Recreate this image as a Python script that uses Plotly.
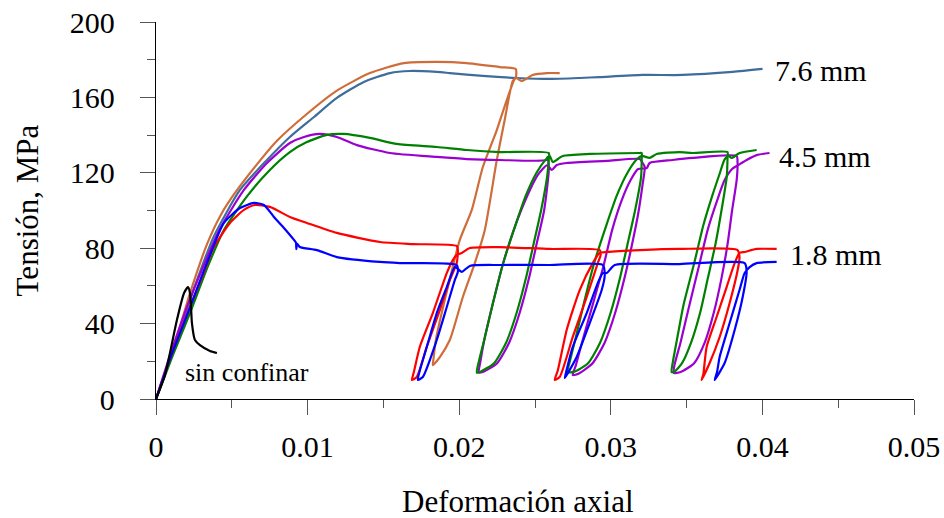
import plotly.graph_objects as go

# ---------------- data (strain [-], stress [MPa]) ----------------
sin_confinar = [(0, 0), (0.00059, 12.7), (0.00092, 24.4), (0.00138, 41.9), (0.00185, 56.2),
                (0.00211, 59.4), (0.00224, 56.2), (0.00231, 48.8), (0.00237, 40.3), (0.00257, 31.3),
                (0.0029, 28.6), (0.00356, 25.5), (0.00402, 24.4)]

mm76_a = [(0, 0), (0.0009, 20), (0.0018, 42), (0.0027, 63), (0.0038, 86), (0.00554, 110.9),
          (0.00732, 126.8), (0.00883, 139), (0.01042, 149.6), (0.01193, 159.7), (0.01371, 168.2),
          (0.01543, 172.9), (0.01674, 174), (0.01852, 173.5), (0.01938, 172.9), (0.02156, 171.4),
          (0.0238, 170.3), (0.02597, 169.8), (0.02795, 170.3), (0.02927, 170.8), (0.0321, 171.9),
          (0.03474, 171.9), (0.03804, 173.5), (0.04001, 175.1)]

mm76_b = [(0, 0), (0.0008, 18), (0.0015, 36), (0.00224, 56), (0.00336, 82), (0.0043, 98),
          (0.00514, 108.5), (0.00666, 124.5), (0.00798, 137), (0.00995, 151.2), (0.01193, 163.6),
          (0.01411, 172.9), (0.01635, 178.2), (0.01852, 178.8), (0.0205, 178.2), (0.02268, 176.1),
          (0.02373, 175.1),
          (0.02373, 170.3), (0.02353, 168.7), (0.0230, 148), (0.02248, 126.8), (0.02169, 89.7),
          (0.02103, 72.1), (0.02024, 54.1), (0.01938, 31.3), (0.0187, 22), (0.01826, 18),
          (0.0183, 21), (0.01846, 31.3), (0.01938, 63.6), (0.02004, 84.4), (0.02083, 100.3),
          (0.02156, 123.1), (0.02248, 142.7), (0.02314, 158.6), (0.02373, 170.3),
          (0.02413, 168.7), (0.02485, 171.9), (0.02577, 172.9), (0.02663, 172.9)]

mm45_a = [(0, 0), (0.0011, 23), (0.00224, 45.6), (0.0034, 70), (0.00448, 89.7), (0.006, 107.5),
          (0.00751, 121.5), (0.00883, 131), (0.00995, 136.3), (0.01127, 140.1), (0.01239, 140.6),
          (0.01411, 138.5), (0.01589, 135.3), (0.01852, 133.7), (0.0205, 132.1), (0.02268, 131),
          (0.02591, 130.5),
          (0.02591, 127.5), (0.0258, 118), (0.0254, 100), (0.0249, 82), (0.0244, 64), (0.0238, 46),
          (0.0231, 30), (0.0223, 19), (0.0214, 14.5), (0.02116, 14),
          (0.0213, 20), (0.0217, 33), (0.0222, 50), (0.0229, 72), (0.0237, 92), (0.0244, 108),
          (0.0251, 120), (0.0257, 127), (0.02597, 129),
          (0.02617, 125.7), (0.02683, 128.9), (0.02861, 130), (0.03191, 130.5), (0.03204, 130.5),
          (0.03204, 127.9), (0.0320, 118), (0.0316, 100), (0.0311, 82), (0.0306, 64), (0.0300, 46),
          (0.0293, 30), (0.0285, 19), (0.0276, 14.5), (0.02716, 14.3),
          (0.0273, 20), (0.0277, 33), (0.0282, 50), (0.0289, 72), (0.0297, 92), (0.0304, 108),
          (0.0311, 120), (0.0317, 127), (0.03204, 129),
          (0.03256, 127.9), (0.03303, 130), (0.03454, 131), (0.0354, 130.5), (0.0377, 131),
          (0.0377, 128.4), (0.03765, 118), (0.0373, 100), (0.0369, 82), (0.0364, 64), (0.0359, 46),
          (0.0353, 30), (0.0347, 19), (0.0342, 14.6), (0.03401, 14.3),
          (0.0341, 20), (0.0344, 33), (0.0348, 50), (0.0355, 72), (0.0361, 92), (0.0367, 108),
          (0.0372, 120), (0.0375, 127), (0.03777, 129),
          (0.03797, 127.9), (0.0385, 130.5), (0.03962, 132.1)]

mm45_b = [(0, 0), (0.001, 25), (0.002, 48), (0.003, 68), (0.0042, 90), (0.0058, 110.9),
          (0.00732, 125.2), (0.00883, 135.8), (0.00976, 139), (0.01081, 140.6), (0.01193, 139),
          (0.01325, 134.7), (0.01543, 130.5), (0.01852, 128.4), (0.0205, 127.3), (0.02268, 126.8),
          (0.02577, 126.8), (0.02584, 128.5),
          (0.0259, 125), (0.0259, 120), (0.0256, 100), (0.0251, 82), (0.0246, 64), (0.0240, 46),
          (0.0233, 30), (0.0225, 19), (0.0216, 14.5), (0.0213, 14),
          (0.0214, 20), (0.0217, 33), (0.0222, 50), (0.0229, 72), (0.0237, 92), (0.0245, 108),
          (0.0252, 119), (0.0258, 124),
          (0.02611, 121.5), (0.02643, 124.1), (0.02709, 125.2), (0.02973, 126.3), (0.03191, 127.3),
          (0.0321, 125.2),
          (0.03224, 123.1), (0.0321, 114), (0.0318, 98), (0.0314, 82), (0.0309, 64), (0.0303, 46),
          (0.0296, 30), (0.0288, 19), (0.0279, 13.5), (0.02749, 12.7),
          (0.0277, 18), (0.0281, 30), (0.0287, 47), (0.0295, 70), (0.0301, 90), (0.0307, 105),
          (0.0313, 116), (0.0318, 122), (0.03237, 122.5),
          (0.03256, 125.2), (0.03408, 126.8), (0.0354, 127.9), (0.0383, 128.9),
          (0.03836, 125.2), (0.0383, 116), (0.0380, 100), (0.0377, 82), (0.0373, 64), (0.0368, 46),
          (0.0362, 30), (0.0355, 19), (0.0346, 14.3), (0.03415, 13.8),
          (0.0342, 18), (0.0346, 30), (0.0351, 47), (0.0358, 70), (0.0364, 90), (0.0370, 105),
          (0.0375, 116), (0.0380, 122), (0.03849, 124.5),
          (0.03863, 125.2), (0.03896, 126.8), (0.03962, 129.4), (0.04047, 130.5)]

mm18_a = [(0, 0), (0.001, 23), (0.00224, 48.8), (0.0031, 66), (0.00382, 80.6), (0.00488, 93.4),
          (0.0058, 100.3), (0.00653, 102.9), (0.00751, 101.9), (0.00883, 96.6), (0.00995, 93.4),
          (0.01193, 88.1), (0.01477, 83.3), (0.01694, 82.2), (0.01984, 81.2),
          (0.01991, 79), (0.01984, 72.1), (0.01938, 63.1), (0.01872, 47.2), (0.01786, 27.6),
          (0.0172, 11.7), (0.01688, 10.1),
          (0.017, 14), (0.0174, 27.6), (0.01826, 45.6), (0.01918, 66.8), (0.01958, 73.7),
          (0.01984, 76.4), (0.02017, 77.5), (0.0207, 80.1), (0.02268, 80.6), (0.02597, 79.6),
          (0.02927, 79),
          (0.02933, 76.4), (0.02914, 72.1), (0.02841, 54.1), (0.02749, 32.9), (0.02663, 11.7),
          (0.0263, 10.1),
          (0.0265, 15), (0.02709, 36.6), (0.02795, 57.8), (0.02881, 72.1), (0.02927, 77.5),
          (0.02973, 78), (0.03191, 79), (0.03454, 79.6), (0.03836, 79),
          (0.03849, 75.3), (0.03837, 68.4), (0.03784, 50.9), (0.03718, 32.9), (0.03652, 19.1),
          (0.03599, 10.1),
          (0.0361, 13), (0.03632, 27.6), (0.03698, 43.5), (0.03764, 59.4), (0.03817, 72.1),
          (0.03849, 77.5), (0.03883, 78), (0.03962, 79.6), (0.04094, 79.6)]

mm18_b = [(0, 0), (0.001, 23), (0.00224, 48.5), (0.0033, 71), (0.00448, 93.4), (0.00554, 101.3),
          (0.00646, 104), (0.00712, 102.9), (0.00778, 96.6), (0.00844, 90.7), (0.0091, 84.4),
          (0.00923, 83), (0.00926, 79.5), (0.0093, 82.5), (0.00949, 80.6), (0.01061, 79),
          (0.01193, 75.3), (0.01477, 72.7), (0.01608, 72.1), (0.01984, 71.1),
          (0.01991, 67.4), (0.01971, 63.1), (0.01918, 48.8), (0.01852, 31.3), (0.0176, 11.7),
          (0.01727, 10.1),
          (0.0174, 15), (0.01786, 27.6), (0.01852, 45.6), (0.01918, 59.4), (0.01971, 70),
          (0.01991, 69), (0.02017, 67.4), (0.0207, 70.6), (0.02268, 71.1), (0.02597, 71.1),
          (0.02947, 71.1),
          (0.0296, 65.8), (0.0294, 57.8), (0.02861, 40.3), (0.02775, 22.3), (0.02696, 11.1),
          (0.0271, 15.9), (0.02749, 27.6), (0.02841, 45.6), (0.02914, 61.5), (0.02947, 66.8),
          (0.02973, 66.8), (0.03026, 71.1), (0.03454, 71.6), (0.03883, 72.1),
          (0.03896, 67.4), (0.0387, 54.1), (0.03817, 36.6), (0.03751, 19.1), (0.03685, 10.1),
          (0.037, 14), (0.03718, 22.3), (0.03784, 40.3), (0.03849, 57.8), (0.03883, 66.8),
          (0.03916, 70), (0.03962, 72.1), (0.04094, 72.7)]

x_ticks = [0, 0.01, 0.02, 0.03, 0.04, 0.05]
x_tick_text = ["0", "0.01", "0.02", "0.03", "0.04", "0.05"]
y_ticks = [0, 40, 80, 120, 160, 200]

labels = [("7.6 mm", 0.04067, 174.5), ("4.5 mm", 0.04094, 128.4), ("1.8 mm", 0.04166, 76.4)]
label_sin = ("sin confinar", 0.00178, 14.3)

# ---------------- figure ----------------
FONT = "Liberation Serif, Times New Roman, serif"
series = [
    (mm76_a, "#3E6D9C"),
    (mm76_b, "#CF6D3A"),
    (mm45_b, "#9A00CF"),
    (mm45_a, "#008000"),
    (mm18_a, "#FF0000"),
    (mm18_b, "#0000FF"),
    (sin_confinar, "#000000"),
]

fig = go.Figure()
for pts, col in series:
    fig.add_trace(go.Scatter(x=[p[0] for p in pts], y=[p[1] for p in pts], mode="lines",
                             line=dict(color=col, width=2.2, shape="spline", smoothing=0.6),
                             hoverinfo="skip"))

for text, xv, yv in labels:
    fig.add_annotation(x=xv, y=yv, text=text, showarrow=False, xanchor="left", yanchor="middle",
                       font=dict(family=FONT, size=30, color="black"))
fig.add_annotation(x=label_sin[1], y=label_sin[2], text=label_sin[0], showarrow=False,
                   xanchor="left", yanchor="middle", font=dict(family=FONT, size=26, color="black"))

fig.add_annotation(xref="paper", yref="paper", x=0.477, y=-0.272, text="Deformación axial",
                   showarrow=False, xanchor="center", yanchor="middle",
                   font=dict(family=FONT, size=31, color="black"))
fig.add_annotation(xref="paper", yref="paper", x=-0.169, y=0.5, text="Tensión, MPa", textangle=-90,
                   showarrow=False, xanchor="center", yanchor="middle",
                   font=dict(family=FONT, size=31, color="black"))

fig.update_layout(
    width=944, height=518,
    margin=dict(l=156, r=30, t=22, b=119, autoexpand=False),
    paper_bgcolor="white", plot_bgcolor="white",
    showlegend=False,
    font=dict(family=FONT, size=30, color="black"),
)
fig.update_xaxes(range=[0, 0.05], tickvals=x_ticks, ticktext=x_tick_text, automargin=False,
                 showline=True, linecolor="black", linewidth=1.3,
                 ticks="outside", ticklen=15, tickwidth=1.3, tickcolor="#555",
                 minor=dict(dtick=0.005, ticks="outside", ticklen=8, tickwidth=1.3, tickcolor="#555"),
                 showgrid=False, zeroline=False, ticklabelstandoff=6,
                 tickfont=dict(family=FONT, size=30, color="black"))
fig.update_yaxes(range=[0, 200], tickvals=y_ticks, automargin=False,
                 showline=True, linecolor="black", linewidth=1.3,
                 ticks="outside", ticklen=15, tickwidth=1.3, tickcolor="#555",
                 minor=dict(dtick=20, ticks="outside", ticklen=8, tickwidth=1.3, tickcolor="#555"),
                 showgrid=False, zeroline=False, ticklabelstandoff=19,
                 tickfont=dict(family=FONT, size=30, color="black"))

fig.write_html("out.html", config={"displayModeBar": False},
               post_script="document.body.style.margin='0';document.body.style.padding='0';")
